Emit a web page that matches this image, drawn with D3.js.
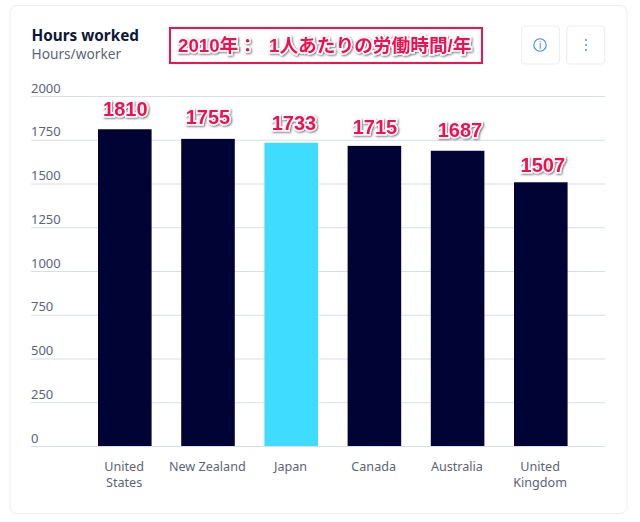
<!DOCTYPE html>
<html>
<head>
<meta charset="utf-8">
<script src="https://cdn.jsdelivr.net/npm/d3@7/dist/d3.min.js"></script>
<style>
html, body { margin: 0; padding: 0; background: #fff; }
svg { display: block; }
text { font-family: "Noto Sans", sans-serif; }
.note { font-family: "Liberation Sans", "Noto Sans CJK JP", sans-serif; font-weight: 700; fill: #f5104f; stroke: #fff; stroke-width: 3px; paint-order: stroke; filter: url(#shadow); }
</style>
</head>
<body>
<svg id="chart" width="640" height="522"></svg>
<script>
const countries = [['United', 'States'], ['New Zealand'], ['Japan'], ['Canada'], ['Australia'], ['United', 'Kingdom']]
const hours = [1810, 1755, 1733, 1715, 1687, 1507]
const highlighted = 'Japan'
const yTicks = [0, 250, 500, 750, 1000, 1250, 1500, 1750, 2000]
const chartTitle = 'Hours worked'
const chartUnit = 'Hours/worker'
const banner = ['2010年：', '1人あたりの労働時間/年']

const svg = d3.select('#chart')

const defs = svg.append('defs')
const shadow = defs.append('filter').attr('id', 'shadow')
    .attr('x', '-10%').attr('y', '-20%').attr('width', '120%').attr('height', '150%')
shadow.append('feDropShadow')
    .attr('dx', 1).attr('dy', 1).attr('stdDeviation', 0.8)
    .attr('flood-color', '#000').attr('flood-opacity', 0.6)

// card
svg.append('rect')
    .attr('x', 10).attr('y', 5.5).attr('width', 617).attr('height', 508)
    .attr('rx', 7).attr('fill', '#fff').attr('stroke', '#eceef1')

const x = d3.scaleBand()
    .domain(countries.map(d => d.join(' ')))
    .range([83.2, 582.4])
    .paddingInner(0.356)
    .paddingOuter(0.178)

const y = d3.scaleLinear()
    .domain([0, 2000])
    .range([446, 96])

// gridlines and y labels
const yAxis = svg.append('g')
    .attr('transform', 'translate(31,0)')
    .call(d3.axisRight(y).tickValues(yTicks).tickSize(574).tickFormat(d3.format('d')))
yAxis.select('.domain').remove()
yAxis.selectAll('line').attr('stroke', '#d8dee8').attr('stroke-width', 1.2)
yAxis.selectAll('text')
    .attr('x', 0).attr('dy', -4)
    .attr('font-size', 13).attr('fill', '#5b6478')
    .style('font-family', '"Noto Sans", sans-serif')

// bars
svg.append('g').selectAll('rect')
    .data(hours)
    .join('rect')
    .attr('x', (d, i) => x(countries[i].join(' ')))
    .attr('y', d => y(d))
    .attr('width', x.bandwidth())
    .attr('height', d => y(0) - y(d))
    .attr('fill', (d, i) => countries[i][0] === highlighted ? '#40dcff' : '#000333')

// x labels
const xLabels = svg.append('g').selectAll('text')
    .data(countries)
    .join('text')
    .attr('text-anchor', 'middle')
    .attr('font-size', 12.6)
    .attr('fill', '#5b6478')
xLabels.selectAll('tspan')
    .data(d => d.map(line => ({ line, key: d.join(' ') })))
    .join('tspan')
    .attr('x', d => x(d.key) + x.bandwidth() / 2 - 0.7)
    .attr('y', (d, i) => 471 + i * 15.5)
    .text(d => d.line)

// value labels, hand placed on the original so they sit a bit unevenly
const nudgeX = [0.5, 0, 2.7, 0.5, 2.3, 2]
const nudgeY = [13, 15, 12.5, 12, 14, 10]
svg.append('g').selectAll('text')
    .data(hours)
    .join('text')
    .attr('class', 'note')
    .attr('text-anchor', 'middle')
    .attr('font-size', 20)
    .attr('x', (d, i) => x(countries[i].join(' ')) + x.bandwidth() / 2 + nudgeX[i])
    .attr('y', (d, i) => y(d) - nudgeY[i])
    .text(d => d)

// header
svg.append('text')
    .attr('x', 31.5).attr('y', 41)
    .attr('font-size', 15.3).attr('font-weight', 700).attr('fill', '#0d1736')
    .text(chartTitle)
svg.append('text')
    .attr('x', 31.5).attr('y', 59)
    .attr('font-size', 13.7).attr('fill', '#5b6478')
    .text(chartUnit)

// banner
svg.append('rect')
    .attr('x', 170).attr('y', 28).attr('width', 312).attr('height', 35)
    .attr('fill', '#fff').attr('stroke', '#f5104f').attr('stroke-width', 2)
svg.append('text')
    .attr('class', 'note')
    .attr('x', 178).attr('y', 52)
    .attr('font-size', 18.7)
    .text(banner[0])
svg.append('text')
    .attr('class', 'note')
    .attr('x', 269).attr('y', 52)
    .attr('font-size', 18.7)
    .text(banner[1])

// info and menu buttons
const buttons = svg.append('g')
buttons.selectAll('rect')
    .data([521.5, 566.7])
    .join('rect')
    .attr('x', d => d).attr('y', 26)
    .attr('width', 38).attr('height', 38).attr('rx', 4)
    .attr('fill', '#fff').attr('stroke', '#eceef1').attr('stroke-width', 1.2)
buttons.append('circle')
    .attr('cx', 540).attr('cy', 45).attr('r', 6.2)
    .attr('fill', 'none').attr('stroke', '#3f86f5').attr('stroke-width', 1.1)
buttons.append('text')
    .attr('x', 540).attr('y', 49)
    .attr('text-anchor', 'middle').attr('font-size', 10.5).attr('fill', '#3f86f5')
    .text('i')
buttons.selectAll('circle.dot')
    .data([-5, 0, 5])
    .join('circle')
    .attr('class', 'dot')
    .attr('cx', 586).attr('cy', d => 45 + d).attr('r', 0.9)
    .attr('fill', '#3f86f5')
</script>
</body>
</html>
